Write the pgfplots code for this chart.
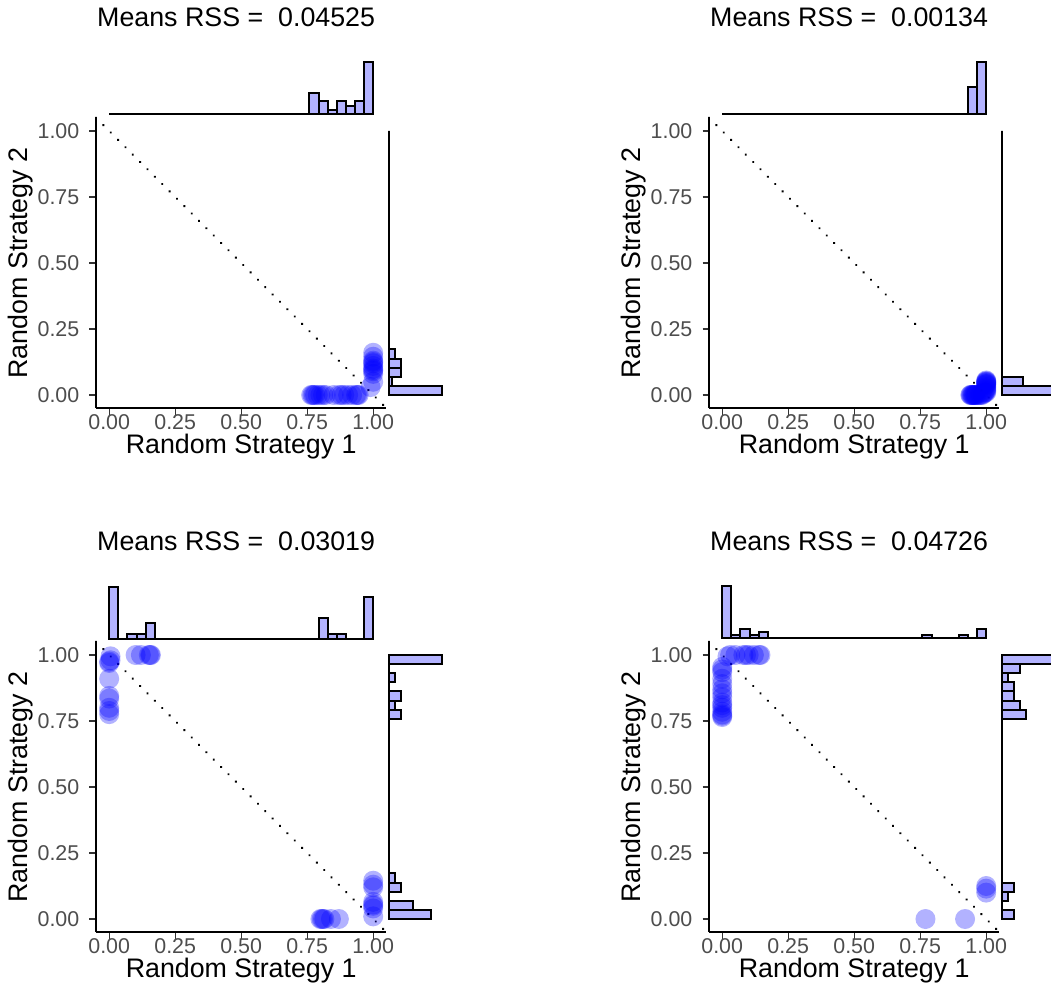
\documentclass[border=0pt]{standalone}
\usepackage{fontspec}
\setmainfont{Liberation Sans}
\usepackage{pgfplots}
\pgfplotsset{compat=1.18}
\definecolor{histfill}{RGB}{179,179,255}
\definecolor{tickgray}{RGB}{77,77,77}
\definecolor{tickline}{RGB}{51,51,51}
\newcommand{\ttl}{\fontsize{26.8}{30}\selectfont}
\newcommand{\tkf}{\fontsize{21.4}{24}\selectfont}
\pgfplotsset{
  mainax/.style={scale only axis, width=290.4pt, height=290.4pt,
    xmin=-0.05, xmax=1.05, ymin=-0.05, ymax=1.05,
    axis x line*=bottom, axis y line*=left,
    axis line style={line width=1.6pt, black, -},
    xtick={0,0.25,0.5,0.75,1}, ytick={0,0.25,0.5,0.75,1},
    xticklabels={0.00,0.25,0.50,0.75,1.00}, yticklabels={0.00,0.25,0.50,0.75,1.00},
    tick align=outside, major tick length=6.5pt,
    tick style={line width=1.4pt, color=tickline},
    xticklabel style={font=\tkf, text=tickgray, anchor=base, inner sep=0pt, yshift=-15pt},
    yticklabel style={font=\tkf, text=tickgray, anchor=east, inner sep=0pt, xshift=-10pt},
    clip=false, anchor=south west},
  topm/.style={scale only axis, width=290.4pt, height=52pt, xmin=-1.45, xmax=30.45,
    ymin=0, hide axis, clip=false, anchor=south west},
  rightm/.style={scale only axis, width=53pt, height=290.4pt, ymin=-1.45, ymax=30.45,
    xmin=0, hide axis, clip=false, anchor=south west},
  hist/.style={fill=histfill, draw=black, line width=2pt},
  pts/.style={only marks, mark=*, mark size=10pt, color=blue, draw opacity=0, fill opacity=0.3,
    mark options={fill=blue, draw opacity=0, fill opacity=0.3, line width=0pt}},
  diag/.style={black, line width=2.6pt, dash pattern=on 0.01pt off 10.4pt, line cap=round},
}
\begin{document}
\begin{tikzpicture}
\useasboundingbox (0,0) rectangle (1051pt,999pt);
% ===== Panel 1 =====
\begin{axis}[mainax, at={(96pt,590.8pt)}]
\addplot[pts] coordinates {(0.765,0) (0.77,0) (0.775,0) (0.78,0) (0.79,0) (0.80,0) (0.81,0) (0.82,0) (0.85,0) (0.87,0) (0.88,0) (0.89,0) (0.905,0) (0.92,0) (0.935,0) (0.94,0) (0.945,0) (0.99,0.03) (1,0.05) (1,0.08) (1,0.09) (1,0.095) (1,0.10) (1,0.11) (1,0.12) (1,0.125) (1,0.13) (1,0.145) (1,0.16)};
\addplot[diag] coordinates {(-0.05,1.05) (1.05,-0.05)};
\end{axis}
\begin{axis}[topm, ymax=12, at={(96pt,884.7pt)}, ybar interval]
\addplot[hist] coordinates {(0,0) (1,0) (2,0) (3,0) (4,0) (5,0) (6,0) (7,0) (8,0) (9,0) (10,0) (11,0) (12,0) (13,0) (14,0) (15,0) (16,0) (17,0) (18,0) (19,0) (20,0) (21,0) (22,5) (23,3) (24,1) (25,3) (26,2) (27,3) (28,12) (29,0)};
\end{axis}
\begin{axis}[rightm, xmax=18, at={(389.3pt,590.8pt)}, xbar interval]
\addplot[hist] coordinates {(18,0) (1,1) (4,2) (4,3) (2,4) (0,5) (0,6) (0,7) (0,8) (0,9) (0,10) (0,11) (0,12) (0,13) (0,14) (0,15) (0,16) (0,17) (0,18) (0,19) (0,20) (0,21) (0,22) (0,23) (0,24) (0,25) (0,26) (0,27) (0,28) (0,29)};
\end{axis}
\node[font=\ttl, anchor=base west, inner sep=0pt] at (97pt,972pt) {Means RSS = \ 0.04525};
\node[font=\ttl, anchor=base] at (241.2pt,545.5pt) {Random Strategy 1};
\node[font=\ttl, anchor=base, rotate=90] at (27pt,736pt) {Random Strategy 2};
% ===== Panel 2 =====
\begin{axis}[mainax, at={(709pt,590.8pt)}]
\addplot[pts] coordinates {(0.94,0) (0.942,0) (0.945,0) (0.948,0) (0.95,0) (0.953,0) (0.955,0) (0.958,0) (0.96,0) (0.963,0) (0.97,0) (0.975,0) (0.98,0) (0.985,0) (0.99,0.005) (0.995,0.01) (1,0.01) (1,0.015) (1,0.02) (1,0.025) (1,0.03) (1,0.036) (1,0.04) (1,0.042) (1,0.045) (1,0.048) (1,0.05) (1,0.052) (1,0.055)};
\addplot[diag] coordinates {(-0.05,1.05) (1.05,-0.05)};
\end{axis}
\begin{axis}[topm, ymax=19, at={(709pt,884.7pt)}, ybar interval]
\addplot[hist] coordinates {(0,0) (1,0) (2,0) (3,0) (4,0) (5,0) (6,0) (7,0) (8,0) (9,0) (10,0) (11,0) (12,0) (13,0) (14,0) (15,0) (16,0) (17,0) (18,0) (19,0) (20,0) (21,0) (22,0) (23,0) (24,0) (25,0) (26,0) (27,10) (28,19) (29,0)};
\end{axis}
\begin{axis}[rightm, xmax=21, at={(1002.3pt,590.8pt)}, xbar interval]
\addplot[hist] coordinates {(21,0) (8,1) (0,2) (0,3) (0,4) (0,5) (0,6) (0,7) (0,8) (0,9) (0,10) (0,11) (0,12) (0,13) (0,14) (0,15) (0,16) (0,17) (0,18) (0,19) (0,20) (0,21) (0,22) (0,23) (0,24) (0,25) (0,26) (0,27) (0,28) (0,29)};
\end{axis}
\node[font=\ttl, anchor=base west, inner sep=0pt] at (710pt,972pt) {Means RSS = \ 0.00134};
\node[font=\ttl, anchor=base] at (854.2pt,545.5pt) {Random Strategy 1};
\node[font=\ttl, anchor=base, rotate=90] at (640pt,736pt) {Random Strategy 2};
% ===== Panel 3 =====
\begin{axis}[mainax, at={(96pt,66.8pt)}]
\addplot[pts] coordinates {(0,0.97) (0,0.975) (0.005,0.98) (0.005,0.995) (0,0.91) (0,0.835) (0,0.845) (0,0.80) (0,0.776) (0,0.788) (0.10,1) (0.12,1) (0.15,1) (0.155,1) (0.158,1) (0.80,0) (0.805,0) (0.81,0) (0.815,0) (0.84,0) (0.87,0) (1,0.01) (1,0.04) (1,0.05) (1,0.055) (1,0.065) (1,0.12) (1,0.13) (1,0.145)};
\addplot[diag] coordinates {(-0.05,1.05) (1.05,-0.05)};
\end{axis}
\begin{axis}[topm, ymax=10, at={(96pt,360.2pt)}, ybar interval]
\addplot[hist] coordinates {(0,10) (1,0) (2,1) (3,1) (4,3) (5,0) (6,0) (7,0) (8,0) (9,0) (10,0) (11,0) (12,0) (13,0) (14,0) (15,0) (16,0) (17,0) (18,0) (19,0) (20,0) (21,0) (22,0) (23,4) (24,1) (25,1) (26,0) (27,0) (28,8) (29,0)};
\end{axis}
\begin{axis}[rightm, xmax=9, at={(389.3pt,66.8pt)}, xbar interval]
\addplot[hist] coordinates {(7,0) (4,1) (0,2) (2,3) (1,4) (0,5) (0,6) (0,7) (0,8) (0,9) (0,10) (0,11) (0,12) (0,13) (0,14) (0,15) (0,16) (0,17) (0,18) (0,19) (0,20) (0,21) (2,22) (1,23) (2,24) (0,25) (1,26) (0,27) (9,28) (0,29)};
\end{axis}
\node[font=\ttl, anchor=base west, inner sep=0pt] at (97pt,448pt) {Means RSS = \ 0.03019};
\node[font=\ttl, anchor=base] at (241.2pt,21.5pt) {Random Strategy 1};
\node[font=\ttl, anchor=base, rotate=90] at (27pt,212pt) {Random Strategy 2};
% ===== Panel 4 =====
\begin{axis}[mainax, at={(709pt,66.8pt)}]
\addplot[pts] coordinates {(0,0.765) (0,0.77) (0,0.775) (0,0.785) (0,0.80) (0,0.81) (0,0.82) (0,0.84) (0,0.855) (0,0.87) (0,0.89) (0,0.91) (0,0.935) (0,0.945) (0,0.955) (0.02,0.995) (0.03,1) (0.05,1) (0.08,1) (0.09,1) (0.10,1) (0.12,1) (0.14,1) (0.145,1) (0.77,0) (0.92,0) (1,0.10) (1,0.115) (1,0.125)};
\addplot[diag] coordinates {(-0.05,1.05) (1.05,-0.05)};
\end{axis}
\begin{axis}[topm, ymax=17, at={(709pt,360.5pt)}, ybar interval]
\addplot[hist] coordinates {(0,17) (1,1) (2,3) (3,1) (4,2) (5,0) (6,0) (7,0) (8,0) (9,0) (10,0) (11,0) (12,0) (13,0) (14,0) (15,0) (16,0) (17,0) (18,0) (19,0) (20,0) (21,0) (22,1) (23,0) (24,0) (25,0) (26,1) (27,0) (28,3) (29,0)};
\end{axis}
\begin{axis}[rightm, xmax=9, at={(1002.3pt,66.8pt)}, xbar interval]
\addplot[hist] coordinates {(2,0) (0,1) (1,2) (2,3) (0,4) (0,5) (0,6) (0,7) (0,8) (0,9) (0,10) (0,11) (0,12) (0,13) (0,14) (0,15) (0,16) (0,17) (0,18) (0,19) (0,20) (0,21) (4,22) (3,23) (2,24) (2,25) (1,26) (3,27) (9,28) (0,29)};
\end{axis}
\node[font=\ttl, anchor=base west, inner sep=0pt] at (710pt,448pt) {Means RSS = \ 0.04726};
\node[font=\ttl, anchor=base] at (854.2pt,21.5pt) {Random Strategy 1};
\node[font=\ttl, anchor=base, rotate=90] at (640pt,212pt) {Random Strategy 2};
\end{tikzpicture}
\end{document}
